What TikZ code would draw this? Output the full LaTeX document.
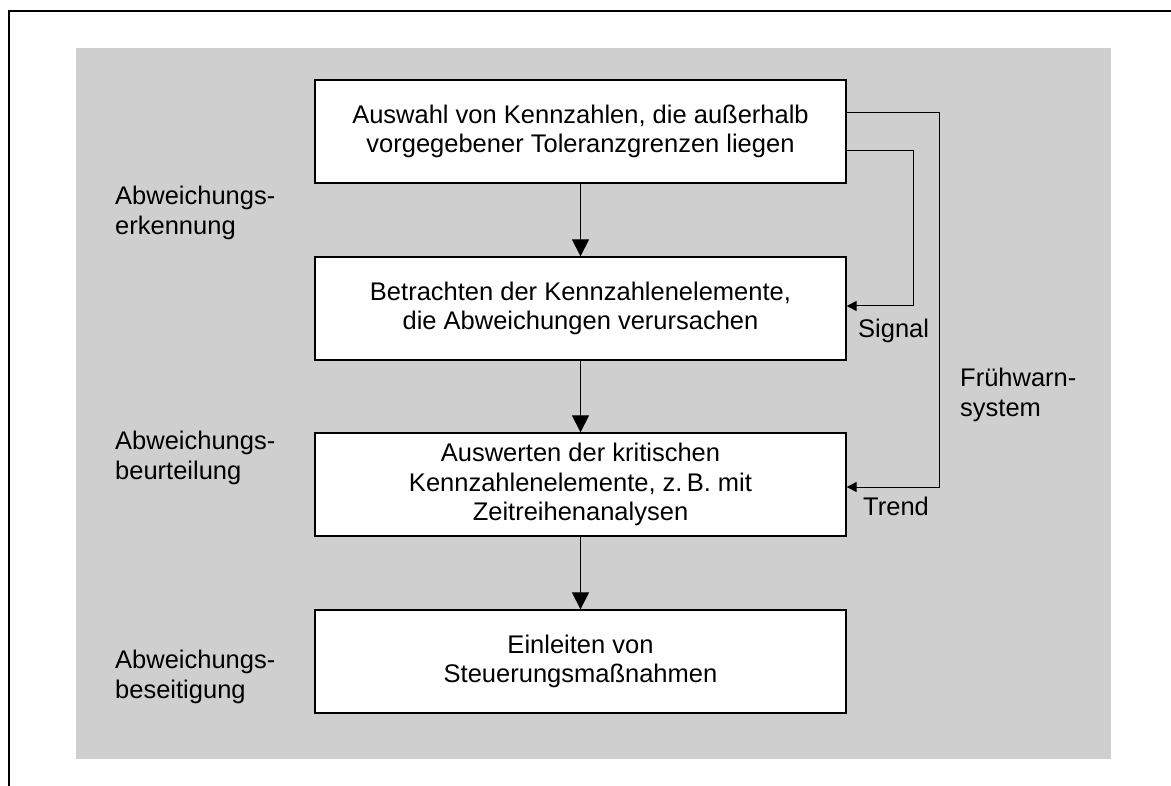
\documentclass[tikz,border=0pt]{standalone}
\usepackage{fontspec}
\setmainfont{Liberation Sans}
\usetikzlibrary{arrows.meta}
\definecolor{panelgray}{RGB}{207,207,207}
\begin{document}
\begin{tikzpicture}[x=1pt,y=-1pt,
  txt/.style={font=\fontsize{25.5}{29.5}\selectfont},
  stepbox/.style={txt,draw=black,line width=1.3pt,fill=white,
    minimum width=531pt,minimum height=103pt,align=center,inner sep=0pt},
  sidelabel/.style={txt,align=left,inner sep=0pt,anchor=west},
  flow/.style={line width=1.2pt,-{Triangle[width=17pt,length=17pt]}},
  feedback/.style={line width=1pt,-{Triangle[width=10pt,length=10pt]}}]
\useasboundingbox (0,0) rectangle (1171,786);
% panel and frame
\fill[panelgray] (76,48) rectangle (1111,759);
\draw[line width=2pt] (9,786) -- (9,11) -- (1171,11);

% process steps
\node[stepbox] (b1) at (580.5,131.5) {Auswahl von Kennzahlen, die außerhalb\\vorgegebener Toleranzgrenzen liegen};
\node[stepbox] (b2) at (580.5,308.5) {Betrachten der Kennzahlenelemente,\\die Abweichungen verursachen};
\node[stepbox] (b3) at (580.5,484.5) {Auswerten der kritischen\\Kennzahlenelemente, z.\,B. mit\\Zeitreihenanalysen};
\node[stepbox] (b4) at (580.5,661.5) {Einleiten von\\Steuerungsmaßnahmen};

\draw[flow] (b1.south) -- (b2.north);
\draw[flow] (b2.south) -- (b3.north);
\draw[flow] (b3.south) -- (b4.north);

% feedback loops
\draw[feedback] ([yshift=-19.5pt]b1.east) -- ++(67,0) |- ([yshift=2.5pt]b2.east);
\draw[feedback] ([yshift=18.5pt]b1.east) -- ++(93,0) |- ([yshift=-2.5pt]b3.east);

\node[txt,inner sep=0pt,anchor=base west] (sig) at (858,338) {Signal};
\node[txt,inner sep=0pt,anchor=base west] (trd) at (863,515) {Trend};
\node[sidelabel] (fws) at (960,395) {Frühwarn-\\system};

% phase labels
\node[sidelabel] (l1) at (115,213) {Abweichungs-\\erkennung};
\node[sidelabel] (l2) at (115,458) {Abweichungs-\\beurteilung};
\node[sidelabel] (l3) at (115,677) {Abweichungs-\\beseitigung};
\end{tikzpicture}
\end{document}
